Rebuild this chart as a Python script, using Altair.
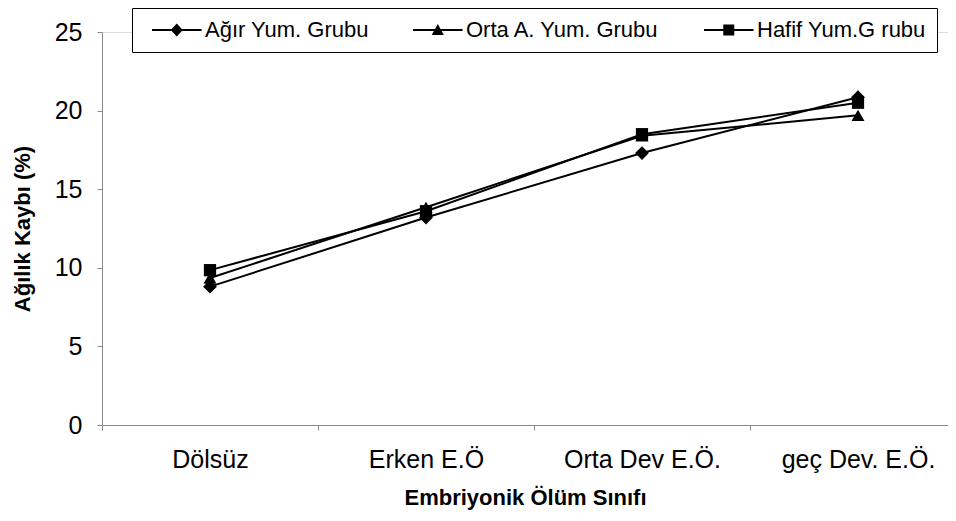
import altair as alt
import pandas as pd

categories = ["Dölsüz", "Erken E.Ö", "Orta Dev E.Ö.", "geç Dev. E.Ö."]
series_names = ["Ağır Yum. Grubu", "Orta A. Yum. Grubu", "Hafif Yum.G rubu"]
agir = [8.8, 13.2, 17.3, 20.85]
orta = [9.35, 13.85, 18.4, 19.7]
hafif = [9.85, 13.6, 18.5, 20.5]
y_ticks = [0, 5, 10, 15, 20, 25]

rows = []
for name, vals in zip(series_names, [agir, orta, hafif]):
    for c, v in zip(categories, vals):
        rows.append({"sinif": c, "grup": name, "kayip": v})
df = pd.DataFrame(rows)

FONT = "Liberation Sans"
marker_shapes = ["diamond", "triangle-up", "square"]
marker_sizes = [190, 150, 130]
_line = "M-0.18,-0.09H4.32V0.09H-0.18Z "
legend_shapes = [
    _line + "M2.07,-0.6L2.62,0L2.07,0.6L1.52,0Z",
    _line + "M2.07,-0.55L2.62,0.45L1.52,0.45Z",
    _line + "M1.57,-0.5H2.57V0.5H1.57Z",
]

x = alt.X(
    "sinif:N",
    sort=categories,
    scale=alt.Scale(type="band", paddingInner=0, paddingOuter=0, range=[0, 864]),
    axis=alt.Axis(
        title="Embriyonik Ölüm  Sınıfı",
        labelAngle=0,
        tickBand="extent",
        labelFontSize=25,
        labelPadding=17,
        titleFontSize=22,
        titlePadding=15,
        titleX=423,
    ),
)
y = alt.Y(
    "kayip:Q",
    scale=alt.Scale(domain=[0, 25]),
    axis=alt.Axis(
        values=y_ticks,
        title="Ağılık Kaybı (%)",
        grid=False,
        labelFontSize=25,
        labelPadding=15,
        titleFontSize=22,
        titlePadding=20,
    ),
)

base = alt.Chart(df).encode(x=x, y=y)

lines = base.mark_line(color="black", strokeWidth=2).encode(detail="grup:N")

points = base.mark_point(filled=True, color="black", opacity=1).encode(
    shape=alt.Shape(
        "grup:N",
        scale=alt.Scale(domain=series_names, range=marker_shapes),
        legend=None,
    ),
    size=alt.Size(
        "grup:N",
        scale=alt.Scale(domain=series_names, range=marker_sizes),
        legend=None,
    ),
)

legend_layer = (
    base.mark_point(filled=True, color="black", opacity=1)
    .transform_filter("false")
    .encode(
        shape=alt.Shape(
            "grup:N",
            scale=alt.Scale(domain=series_names, range=legend_shapes),
            legend=alt.Legend(
                title=None,
                orient="none",
                legendX=30,
                legendY=-24,
                direction="horizontal",
                strokeColor="black",
                fillColor="white",
                padding=11,
                labelFont=FONT,
                labelFontSize=22,
                labelColor="black",
                labelLimit=0,
                labelOffset=40,
                columnPadding=35,
                symbolSize=484,
                symbolFillColor="black",
                symbolStrokeWidth=0,
                symbolOpacity=1,
            ),
        )
    )
)

chart = (
    alt.layer(lines, points, legend_layer)
    .resolve_scale(shape="independent")
    .properties(
        width=846,
        height=393,
        autosize="none",
        padding={"left": 94, "top": 24, "right": 0, "bottom": 88},
    )
    .configure_view(stroke=None)
    .configure_axis(
        labelFont=FONT,
        titleFont=FONT,
        labelColor="black",
        titleColor="black",
        titleFontWeight="bold",
        domainColor="#555555",
        tickColor="#555555",
        domainWidth=1.5,
        tickWidth=1.5,
        tickSize=7,
    )
    .configure(background="white")
)

chart.save("out.html", embed_options={"renderer": "svg", "actions": False})
